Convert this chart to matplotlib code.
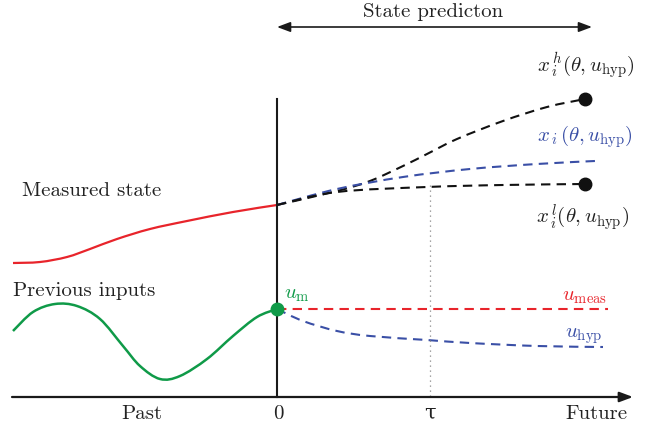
import matplotlib
matplotlib.use("Agg")
import matplotlib.pyplot as plt
from matplotlib.path import Path
from matplotlib.patches import PathPatch
import numpy as np

plt.rcParams['font.family'] = ['cmr10', 'DejaVu Serif']
plt.rcParams['mathtext.fontset'] = 'cm'
plt.rcParams['axes.unicode_minus'] = False

# values (pixel-like units, y grows downward)
past_x = [13, 40, 67, 90, 117, 150, 187, 233, 277]
state_meas = [264, 263, 258, 250, 240, 230, 222, 213, 206]

input_x = [13, 33, 55, 77, 100, 123, 140, 160, 180, 207, 233, 257, 277]
input_prev = [332, 313, 305, 307, 320, 347, 367, 380, 377, 360, 337, 318, 310]

pred_x = [277, 337, 370, 403, 427, 457, 503, 547, 585]
state_high = [206, 192, 182, 167, 155, 140, 122, 108, 100]
mid_x = [277, 337, 403, 470, 537, 595]
state_mid = [206, 190, 178, 170, 165, 162]
low_x = [277, 337, 427, 503, 585]
state_low = [206, 193, 188, 186, 185]

hyp_x = [277, 303, 337, 370, 427, 470, 537, 603]
u_hyp = [310, 322, 332, 337, 341, 344, 347, 348]
meas_x = [277, 608]
u_meas = [310, 310]

tick_pos = [142, 278, 430, 596]
tick_labels = ['Past', '0', 'τ', 'Future']

RED = '#e8242b'
GREEN = '#0f9a48'
BLUE = '#3a4fa6'
DASH = (0, (4.5, 3))
FS = 15


def smooth_curve(ax, xs, ys, **kw):
    # Catmull-Rom through the read points, drawn as cubic beziers
    p = np.column_stack([xs, ys]).astype(float)
    verts = [p[0]]
    codes = [Path.MOVETO]
    for i in range(len(p) - 1):
        p0 = p[i - 1] if i > 0 else p[i]
        p3 = p[i + 2] if i + 2 < len(p) else p[i + 1]
        c1 = p[i] + (p[i + 1] - p0) / 6
        c2 = p[i + 1] - (p3 - p[i]) / 6
        verts += [c1, c2, p[i + 1]]
        codes += [Path.CURVE4] * 3
    ax.add_patch(PathPatch(Path(verts, codes), fill=False, capstyle='butt', **kw))


fig = plt.figure(figsize=(6.63, 4.31), dpi=100)
ax = fig.add_axes([0, 0, 1, 1])
ax.set_xlim(0, 663)
ax.set_ylim(431, 0)
ax.axis('off')

# axes
ax.annotate('', xy=(633, 398), xytext=(12, 398),
            arrowprops=dict(arrowstyle='-|>,head_length=0.8,head_width=0.3', lw=1.6,
                            color='#1a1a1a', shrinkA=0, shrinkB=0))
ax.plot([277, 277], [100, 398], color='#1a1a1a', lw=1.5)
ax.plot([430, 430], [186, 398], color='#888888', lw=0.9, ls=(0, (1, 3)))

# state prediction arrow
ax.annotate('', xy=(592, 28), xytext=(277, 28),
            arrowprops=dict(arrowstyle='<|-|>,head_length=0.8,head_width=0.3', lw=1.2,
                            color='#1a1a1a', shrinkA=0, shrinkB=0))
ax.text(433, 12, 'State predicton', ha='center', va='center', fontsize=FS, color='#222222')

# curves
smooth_curve(ax, past_x, state_meas, edgecolor=RED, lw=1.6)
smooth_curve(ax, input_x, input_prev, edgecolor=GREEN, lw=1.8)
smooth_curve(ax, pred_x, state_high, edgecolor='#111111', lw=1.5, ls=DASH)
smooth_curve(ax, mid_x, state_mid, edgecolor=BLUE, lw=1.5, ls=DASH)
smooth_curve(ax, low_x, state_low, edgecolor='#111111', lw=1.5, ls=DASH)
smooth_curve(ax, hyp_x, u_hyp, edgecolor=BLUE, lw=1.5, ls=DASH)
ax.plot(meas_x, u_meas, color=RED, lw=1.5, ls=DASH)

ax.plot([pred_x[-1], low_x[-1]], [state_high[-1], state_low[-1]], 'o', color='#111111', ms=9, ls='none')
ax.plot([input_x[-1]], [input_prev[-1]], 'o', color=GREEN, ms=9)

# labels
ax.text(22, 191, 'Measured state', ha='left', va='center', fontsize=FS, color='#222222')
ax.text(13, 291, 'Previous inputs', ha='left', va='center', fontsize=FS, color='#222222')
ax.text(284, 295, r'$u_{\mathrm{m}}$', ha='left', va='center', fontsize=FS, color=GREEN)
ax.text(607, 297, r'$u_{\mathrm{meas}}$', ha='right', va='center', fontsize=FS, color=RED)
ax.text(602, 336, r'$u_{\mathrm{hyp}}$', ha='right', va='center', fontsize=FS, color=BLUE)
ax.text(634, 66, r'$x_{\,i}^{\,h}(\theta, u_{\mathrm{hyp}})$', ha='right', va='center', fontsize=FS, color='#222222')
ax.text(633, 137, r'$x_{\,i}\,(\theta, u_{\mathrm{hyp}})$', ha='right', va='center', fontsize=FS, color=BLUE)
ax.text(629, 218, r'$x_{\,i}^{\,l}(\theta, u_{\mathrm{hyp}})$', ha='right', va='center', fontsize=FS, color='#222222')

for xp, lab in zip(tick_pos, tick_labels):
    ax.text(xp, 414, lab, ha='center', va='center', fontsize=FS, color='#222222')

fig.savefig('out.png', dpi=100)
